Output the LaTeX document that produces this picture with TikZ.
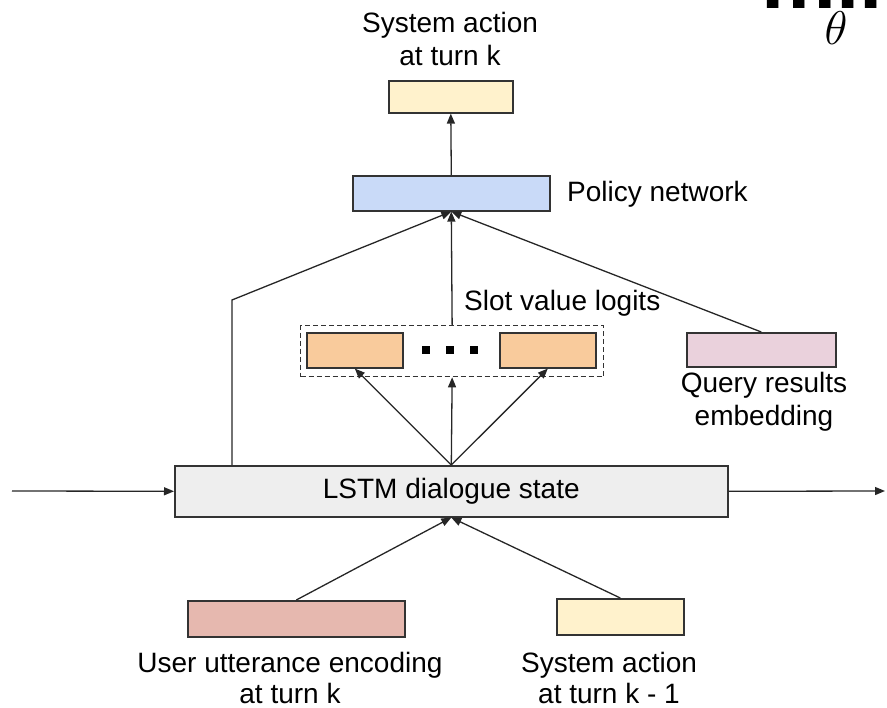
\documentclass[tikz,border=0pt]{standalone}
\usepackage{fontspec}
\setmainfont{Liberation Sans}
\usetikzlibrary{arrows.meta}
\definecolor{actfill}{HTML}{FFF2CC}
\definecolor{polfill}{HTML}{C9DAF8}
\definecolor{slotfill}{HTML}{F9CB9C}
\definecolor{queryfill}{HTML}{EAD1DC}
\definecolor{lstmfill}{HTML}{EEEEEE}
\definecolor{userfill}{HTML}{E6B8AF}
\definecolor{edge}{HTML}{333333}
\begin{document}
\begin{tikzpicture}[x=1pt,y=-1pt,
  font=\fontsize{28}{33}\selectfont,
  blk/.style={draw=edge,line width=1.6pt,inner sep=0pt,anchor=north west},
  lbl/.style={inner sep=0pt,anchor=base},
  conn/.style={line width=1.3pt,draw=black!85,-{Triangle[length=10pt,width=8pt]}}]
\clip (0,0) rectangle (887,708);
\useasboundingbox (0,0) rectangle (887,708);

% objective fragment at the top right: "min" over theta
\node[inner sep=0pt,anchor=base] (objmin) at (836,9)
  {\scalebox{3}{$\mathbf{min}$}};
\node[inner sep=0pt,anchor=center] (objtheta) at (836,28)
  {\scalebox{1.9}{$\theta$}};

% blocks
\node[blk,fill=actfill,minimum width=124pt,minimum height=32pt] (out) at (388,80) {};
\node[blk,fill=polfill,minimum width=197pt,minimum height=35pt] (pol) at (352,175) {};
\node[draw=edge,line width=1.3pt,dash pattern=on 5pt off 3pt,inner sep=0pt,anchor=north west,minimum width=303pt,minimum height=51pt] (slots) at (300,325) {};
\node[blk,fill=slotfill,minimum width=96pt,minimum height=35pt] (s1) at (306,332) {};
\node[blk,fill=slotfill,minimum width=96pt,minimum height=35pt] (s2) at (499,332) {};
\node[blk,fill=queryfill,minimum width=149pt,minimum height=34pt] (qry) at (686,332) {};
\node[blk,fill=lstmfill,minimum width=553pt,minimum height=51pt] (lstm) at (174,465) {};
\node[blk,fill=userfill,minimum width=217pt,minimum height=36pt] (usr) at (187,600) {};
\node[blk,fill=actfill,minimum width=127pt,minimum height=36pt] (prev) at (556,598) {};

% dots between the slot boxes
\foreach \xx in {426,450,474}
  \fill (\xx-4,346) rectangle (\xx+4,354);

% texts, one node per line, placed on their baselines
\node[lbl] (outtxtA) at (450,33) {System action};
\node[lbl] (outtxtB) at (450,66) {at turn k};
\node[lbl,anchor=base west] (poltxt) at (567,202) {Policy network};
\node[lbl,anchor=base west] (slottxt) at (464,311) {Slot value logits};
\node[lbl] (qrytxtA) at (764,393) {Query results};
\node[lbl] (qrytxtB) at (764,426) {embedding};
\node[inner sep=0pt] (lstmtxt) at (lstm.center) {LSTM dialogue state};
\node[lbl] (usrtxtA) at (290,672) {User utterance encoding};
\node[lbl] (usrtxtB) at (290,703) {at turn k};
\node[lbl] (prevtxtA) at (609,672) {System action};
\node[lbl] (prevtxtB) at (609,703) {at turn k - 1};

% recurrent state in and out
\coordinate (inL) at (12,491);
\coordinate (outR) at (885,491);
\draw[conn] (inL) -- (lstm.west);
\draw[conn] (lstm.east) -- (outR);

% inputs to the state
\draw[conn] (usr.north) -- (lstm.south);
\draw[conn] (prev.north) -- (lstm.south);

% state to slot logits
\draw[conn] (lstm.north) -- (s1.south);
\draw[conn] (lstm.north) -- (slots.south);
\draw[conn] (lstm.north) -- (s2.south);

% everything into the policy network
\coordinate (bend) at (232,300);
\draw[conn] (lstm.north -| bend) -- (bend) -- (pol.south);
\draw[conn] (slots.north) -- (pol.south);
\draw[conn] (qry.north) -- (pol.south);
\draw[conn] (pol.north) -- (out.south);
\end{tikzpicture}
\end{document}
